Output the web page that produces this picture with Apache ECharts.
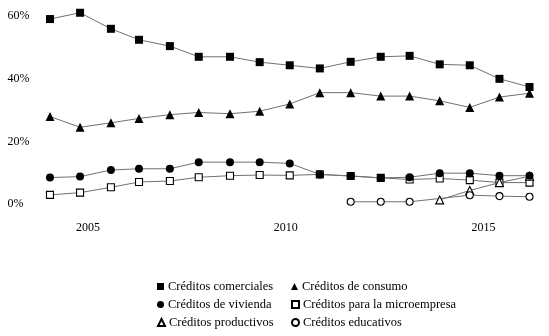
<!DOCTYPE html>
<html><head><meta charset="utf-8">
<script src="https://cdn.jsdelivr.net/npm/echarts@6/dist/echarts.min.js"></script>
<style>html,body{margin:0;padding:0;background:#fff}#c{width:549px;height:336px}</style>
</head><body><div id="c"></div>
<script>
var years = [2004.04, 2004.80, 2005.58, 2006.29, 2007.07, 2007.80, 2008.59, 2009.34, 2010.10, 2010.86, 2011.64, 2012.40, 2013.13, 2013.89, 2014.65, 2015.40, 2016.16];
var xTickLabels = [2005, 2010, 2015];
var yTicks = [0, 20, 40, 60];

var comerciales  = [58.9, 60.9, 55.8, 52.3, 50.3, 46.9, 46.9, 45.2, 44.2, 43.2, 45.3, 46.9, 47.2, 44.5, 44.2, 39.9, 37.3];
var consumo      = [27.9, 24.5, 25.9, 27.3, 28.5, 29.2, 28.8, 29.6, 31.9, 35.5, 35.5, 34.4, 34.4, 32.9, 30.8, 34.1, 35.3];
var vivienda     = [8.5, 8.8, 10.9, 11.3, 11.3, 13.4, 13.4, 13.4, 13.0, 9.5, 9.0, 8.4, 8.6, 9.9, 9.9, 9.1, 9.1];
var microempresa = [3.0, 3.7, 5.4, 7.1, 7.4, 8.6, 9.1, 9.3, 9.2, 9.5, 9.0, 8.4, 7.9, 8.2, 7.7, 6.9, 6.9];
var productivos  = [null, null, null, null, null, null, null, null, null, null, null, null, null, 1.4, 4.4, 6.9, 8.9];
var educativos   = [null, null, null, null, null, null, null, null, null, null, 0.8, 0.8, 0.8, null, 2.9, 2.6, 2.4];

function pairs(vals){ return years.map(function(y,i){ return [y, vals[i]]; }); }

var FONT = '"Liberation Serif", "DejaVu Serif", serif';
var LINE = {color:'#707070', width:1};
var filled = {color:'#000'};
var open = {color:'#fff', borderColor:'#000', borderWidth:1.1};

function ser(name, data, symbol, size, style, z){
  return {name:name, type:'line', data:pairs(data), symbol:symbol, symbolSize:size,
    showAllSymbol:true, connectNulls:true, lineStyle:LINE, itemStyle:style, z:z||2,
    emphasis:{disabled:true}, animation:false};
}
function leg(name, icon, left, top, size){
  return {left:left, top:top, itemWidth:size, itemHeight:size, itemGap:0,
    textStyle:{fontFamily:FONT, fontSize:12.5, color:'#000', padding:[0,0,0,-1]},
    data:[{name:name, icon:icon}]};
}

var chart = echarts.init(document.getElementById('c'), null, {renderer:'canvas'});
chart.setOption({
  animation:false,
  grid:{left:48.4, right:17.9, top:9.3, bottom:131.7, containLabel:false},
  xAxis:{type:'value', min:2004, max:2016.2, interval:1,
    axisLine:{show:false}, axisTick:{show:false}, splitLine:{show:false},
    axisLabel:{margin:18, color:'#000', fontFamily:FONT, fontSize:12,
      showMinLabel:true, showMaxLabel:false,
      formatter:function(v){ return xTickLabels.indexOf(Math.round(v))>=0 && Math.abs(v-Math.round(v))<1e-6 ? String(Math.round(v)) : ''; }}},
  yAxis:{type:'value', min:0, max:62, interval:20,
    axisLine:{show:false}, axisTick:{show:false}, splitLine:{show:false},
    axisLabel:{margin:41, align:'left', color:'#000', fontFamily:FONT, fontSize:12,
      formatter:function(v){ return yTicks.indexOf(v)>=0 ? v+'%' : ''; }}},
  legend:[
    leg('Créditos comerciales', 'rect', 152, 275, 7),
    leg('Créditos de vivienda', 'circle', 152, 293, 7),
    leg('Créditos productivos', 'triangle', 152, 311, 7),
    leg('Créditos de consumo', 'triangle', 286, 275, 7),
    leg('Créditos para la microempresa', 'rect', 286, 293, 7),
    leg('Créditos educativos', 'circle', 286, 311, 7)
  ],
  series:[
    ser('Créditos comerciales', comerciales, 'rect', 8, filled, 3),
    ser('Créditos de consumo', consumo, 'triangle', 9, filled, 3),
    ser('Créditos para la microempresa', microempresa, 'rect', 7, open, 2),
    ser('Créditos productivos', productivos, 'triangle', 8, open, 3),
    ser('Créditos de vivienda', vivienda, 'circle', 8, filled, 4),
    ser('Créditos educativos', educativos, 'circle', 7, open, 3)
  ]
});
</script></body></html>
